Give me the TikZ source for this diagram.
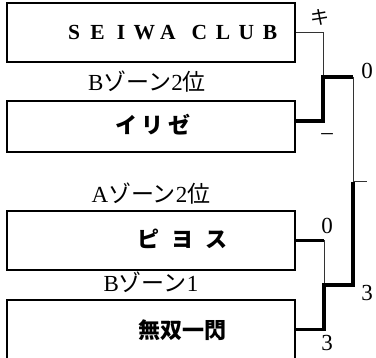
\documentclass[tikz,border=0pt]{standalone}
\usepackage{fontspec}
\setmainfont{Liberation Serif}
\newfontfamily\jp{Noto Sans CJK JP}
\usetikzlibrary{positioning,calc}

\newcommand{\ltr}[1]{\makebox[23.5pt]{#1}}

\begin{document}
\begin{tikzpicture}[x=1pt, y=-1pt,
	team/.style={draw, line width=1.2pt, minimum width=288pt, inner sep=0pt},
	tname/.style={inner sep=0pt, font=\fontsize{22}{22}\selectfont\bfseries},
	zone/.style={inner sep=0pt, font=\fontsize{23}{23}\selectfont},
	score/.style={inner sep=0pt, font=\fontsize{23}{23}\selectfont},
	thin/.style={draw=black!80, line width=1pt},
	thick/.style={line width=3.3pt}]
	\useasboundingbox (0,0) rectangle (376,358); % Rand
	
	% Mannschaften
	\node[team, minimum height=59pt] (b1) at (151,32.5) {};
	\node[team, minimum height=51pt] (b2) at (151,126.5) {};
	\node[team, minimum height=59pt] (b3) at (151,240.5) {};
	\node[team, minimum height=59pt] (b4) at (151,329.5) {};
	
	\node[tname, font=\fontsize{21.5}{21.5}\selectfont\bfseries] (t1) at ([xshift=21pt]b1.center) {\ltr{S}\ltr{E}\ltr{I}\ltr{W}\ltr{A}\hspace{8pt}\ltr{C}\ltr{L}\ltr{U}\ltr{B}};
	\node[tname] (t2) at ([xshift=2pt,yshift=2pt]b2.center) {\jp イ\hspace{5pt}リ\hspace{5pt}ゼ};
	\node[tname] (t3) at ([xshift=32pt,yshift=2pt]b3.center) {\jp ピ\hspace{12pt}ヨ\hspace{12pt}ス};
	\node[tname] (t4) at ([xshift=32pt,yshift=-1pt]b4.center) {\jp 無双一閃};
	
	\node[zone, above=8pt of b2, xshift=-4pt] (z2) {B{\jp ゾーン}2{\jp 位}};
	\node[zone, above=6pt of b3] (z3) {A{\jp ゾーン}2{\jp 位}};
	\node[zone, above=7pt of b4] (z4) {B{\jp ゾーン}1};
	
	% Linien
	\coordinate (m1) at (323,77);
	\coordinate (m2) at (324,285);
	\coordinate (f) at (353,182);
	\coordinate (w) at (367,182);
	
	\draw[thin] (b1.east) -| (m1);
	\draw[thick] ([yshift=5.5pt]b2.east) -| (m1) -- (m1 -| f);
	\draw[thin] (m1 -| f) -- (f) -- (w);
	\draw[thick] (b3.east) -- (b3.east -| m2);
	\draw[thin] (b3.east -| m2) -- (m2);
	\draw[thick] (f) |- (m2) |- (b4.east);
	
	% Ergebnisse
	\node[score, font=\fontsize{19}{19}\selectfont] (s1) at (320,17) {\jp キ};
	\node[score] (s2) at (327,137) {–};
	\node[score] (s3) at (367,71) {0};
	\node[score] (s4) at (327,226) {0};
	\node[score] (s5) at (327,343) {3};
	\node[score] (s6) at (367,293) {3};
\end{tikzpicture}
\end{document}
